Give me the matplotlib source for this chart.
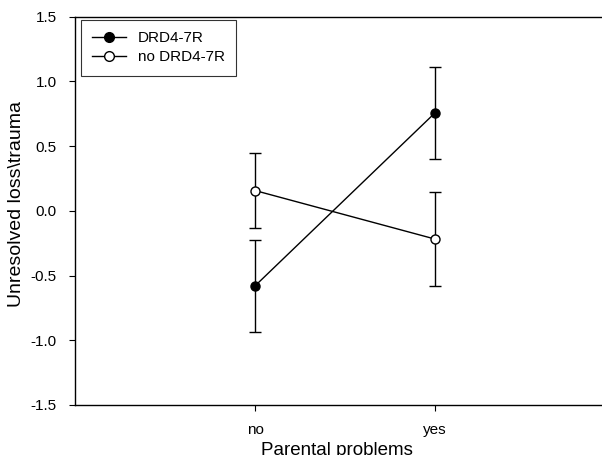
import matplotlib.pyplot as plt
from matplotlib.lines import Line2D
import numpy as np

plt.rcParams['font.family'] = ['Liberation Sans', 'DejaVu Sans']

# data
groups = ['no', 'yes']
x_pos = [1, 2]
drd4_mean = [-0.58, 0.757]
drd4_err = [0.357, 0.355]
no_drd4_mean = [0.157, -0.218]
no_drd4_err = [0.287, 0.36]
yticks = np.arange(-1.5, 1.51, 0.5)

fig = plt.figure(figsize=(6.02, 4.55), dpi=100)
ax = fig.add_axes([75 / 602, 1 - 405 / 455, 540 / 602, (405 - 16.7) / 455])

ax.errorbar(x_pos, drd4_mean, yerr=drd4_err, color='black', marker='o',
            markersize=6.5, markerfacecolor='black', markeredgecolor='black',
            linewidth=1.0, elinewidth=1.0, capsize=4.5, capthick=1.0)
ax.errorbar(x_pos, no_drd4_mean, yerr=no_drd4_err, color='black', marker='o',
            markersize=6.5, markerfacecolor='white', markeredgecolor='black',
            linewidth=1.0, elinewidth=1.0, capsize=4.5, capthick=1.0)

ax.set_xlim(0, 3)
ax.set_ylim(-1.5, 1.5)
ax.set_xticks(x_pos)
ax.set_xticklabels(groups, fontsize=11)
ax.set_yticks(yticks)
ax.set_yticklabels(['%.1f' % v for v in yticks], fontsize=11)
ax.tick_params(direction='out', length=4, width=0.8, pad=9)
ax.spines['right'].set_visible(False)
for s in ['left', 'top', 'bottom']:
    ax.spines[s].set_linewidth(1.0)

ax.set_xlabel('Parental problems', fontsize=13.5)
ax.xaxis.set_label_coords(0.485, -0.094)
ax.set_ylabel('Unresolved loss\\trauma', fontsize=14)
ax.yaxis.set_label_coords(-0.092, 0.518)

handles = [
    Line2D([], [], color='black', linewidth=1.0, marker='o', markersize=7,
           markerfacecolor='black', markeredgecolor='black'),
    Line2D([], [], color='black', linewidth=1.0, marker='o', markersize=7,
           markerfacecolor='white', markeredgecolor='black'),
]
leg = ax.legend(handles, ['DRD4-7R', 'no DRD4-7R'], loc='upper left',
                fontsize=11, frameon=True, fancybox=False, edgecolor='black',
                handlelength=2.2, borderpad=0.75, labelspacing=0.3,
                handletextpad=0.8, borderaxespad=0,
                bbox_to_anchor=(0.0105, 0.9915))
leg.get_frame().set_linewidth(0.8)

fig.savefig('out.png', dpi=100)
